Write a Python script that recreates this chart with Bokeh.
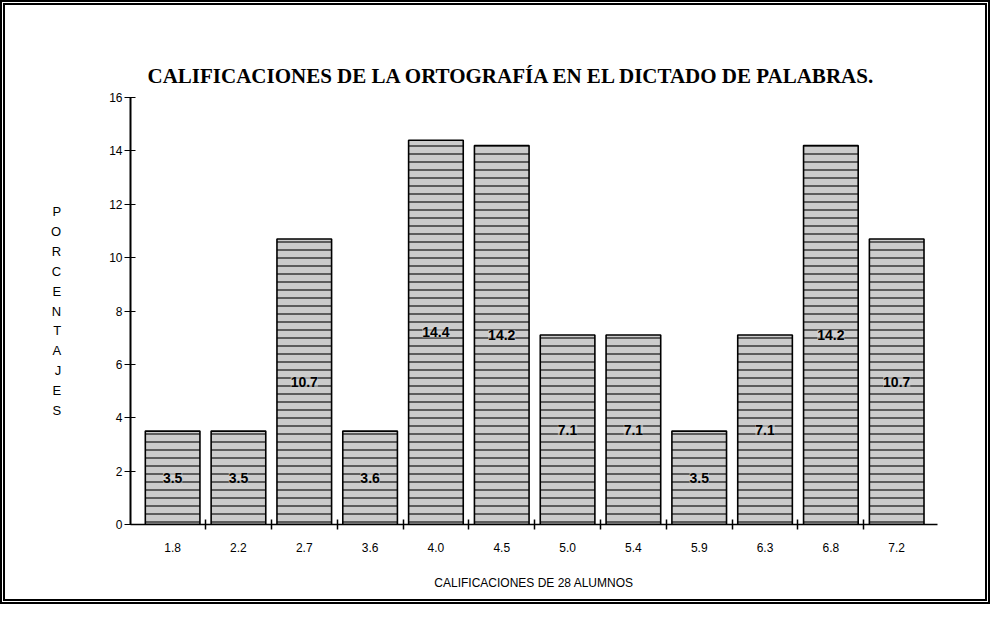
from bokeh.plotting import figure
from bokeh.models import FixedTicker, Range1d, ColumnDataSource, LabelSet
from bokeh.core.properties import value
from bokeh.embed import file_html
from bokeh.resources import INLINE

categories = ["1.8", "2.2", "2.7", "3.6", "4.0", "4.5", "5.0", "5.4", "5.9", "6.3", "6.8", "7.2"]
values = [3.5, 3.5, 10.7, 3.5, 14.4, 14.2, 7.1, 7.1, 3.5, 7.1, 14.2, 10.7]
bar_labels = ["3.5", "3.5", "10.7", "3.6", "14.4", "14.2", "7.1", "7.1", "3.5", "7.1", "14.2", "10.7"]
y_ticks = [0, 2, 4, 6, 8, 10, 12, 14, 16]

n = len(categories)
xs = list(range(n))
src = ColumnDataSource(dict(x=xs, top=values, lab=bar_labels, ly=[v / 2 for v in values]))

p = figure(width=990, height=604, output_backend="svg", toolbar_location=None,
           x_range=Range1d(-0.64, n - 0.38), y_range=Range1d(0, 16),
           min_border_left=125, min_border_right=58, min_border_top=92, min_border_bottom=85)

p.title.text = "CALIFICACIONES DE LA ORTOGRAFÍA EN EL DICTADO DE PALABRAS."
p.title.align = "left"
p.title.text_font = "Liberation Serif"
p.title.text_font_size = "21px"
p.title.text_font_style = "bold"
p.title.text_color = "black"
p.title.standoff = 19
p.title.offset = 17

p.vbar(x="x", top="top", width=0.83, source=src, fill_color="#cccccc",
       line_color="black", line_width=1.6,
       hatch_pattern="horizontal_line", hatch_scale=8, hatch_weight=1.2, hatch_color="#111111")

labels = LabelSet(x="x", y="ly", text="lab", source=src, text_align="center", text_baseline="middle",
                  text_font=value("Liberation Sans"), text_font_size="14px", text_font_style="bold",
                  text_color="black", background_fill_color="#d6d6d6", background_fill_alpha=0.6)
p.add_layout(labels)

p.grid.visible = False
p.outline_line_color = None

p.yaxis.ticker = FixedTicker(ticks=y_ticks)
p.yaxis.major_tick_in = 5
p.yaxis.major_tick_out = 6
p.yaxis.minor_tick_line_color = None
p.yaxis.axis_line_width = 2
p.yaxis.major_label_text_font = "Liberation Sans"
p.yaxis.major_label_text_font_size = "12px"
p.yaxis.major_label_text_color = "black"
p.yaxis.major_label_standoff = 2
p.yaxis.axis_label = "\n".join(list("PORCENTAJES"))
p.yaxis.axis_label_orientation = "horizontal"
p.yaxis.axis_label_text_font = "Liberation Sans"
p.yaxis.axis_label_text_font_size = "13px"
p.yaxis.axis_label_text_font_style = "normal"
p.yaxis.axis_label_text_color = "black"
p.yaxis.axis_label_text_line_height = 1.33
p.yaxis.axis_label_standoff = 45

p.xaxis.ticker = FixedTicker(ticks=xs, minor_ticks=[i + 0.5 for i in range(n - 1)])
p.xaxis.major_label_overrides = {i: c for i, c in enumerate(categories)}
p.xaxis.major_tick_in = 0
p.xaxis.major_tick_out = 0
p.xaxis.minor_tick_in = 5
p.xaxis.minor_tick_out = 5
p.xaxis.minor_tick_line_width = 1.5
p.xaxis.axis_line_width = 1.5
p.xaxis.major_label_text_font = "Liberation Sans"
p.xaxis.major_label_text_font_size = "12px"
p.xaxis.major_label_text_color = "black"
p.xaxis.major_label_standoff = 13
p.xaxis.axis_label = "CALIFICACIONES DE 28 ALUMNOS"
p.xaxis.axis_label_text_font = "Liberation Sans"
p.xaxis.axis_label_text_font_size = "12px"
p.xaxis.axis_label_text_font_style = "normal"
p.xaxis.axis_label_text_color = "black"
p.xaxis.axis_label_standoff = 21

p.styles = {"border": "5px double black", "box-sizing": "border-box"}

open("out.html", "w").write(file_html(p, INLINE))
